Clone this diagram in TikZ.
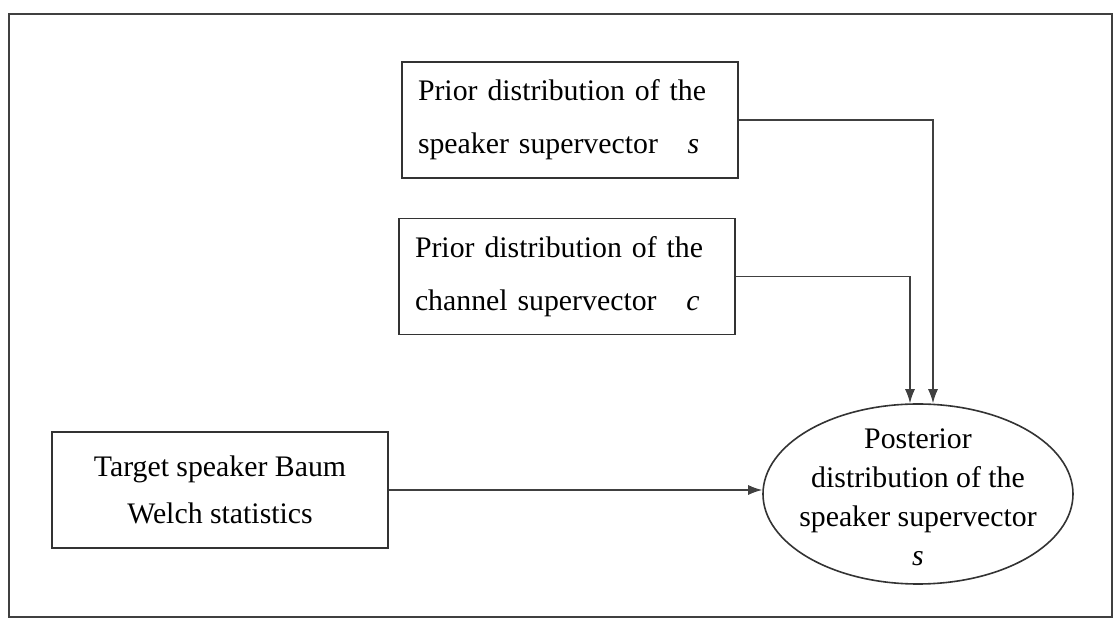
\documentclass[tikz,border=0pt]{standalone}
\usepackage{fontspec}
\setmainfont{Liberation Serif}
\usetikzlibrary{positioning,shapes.geometric,arrows.meta}

\tikzset{
	box/.style={draw=black!80, line width=0.8pt, minimum width=168pt, minimum height=58pt,
		inner sep=0pt, font=\fontsize{14.9pt}{26.5pt}\selectfont},
	prior/.style={box, text width=152pt, align=left},
	post/.style={ellipse, draw=black!80, line width=0.8pt, minimum width=155pt, minimum height=90pt, inner sep=0pt},
	posttxt/.style={align=center, inner sep=0pt, font=\fontsize{14.9pt}{19.5pt}\selectfont},
	link/.style={draw=black!75, line width=0.6pt, -{Latex[length=7pt,width=5pt]}}
}

\begin{document}
\begin{tikzpicture}[x=0.5pt, y=-0.5pt]
	\useasboundingbox (0,0) rectangle (1116,625);
	\draw[line width=1pt, black!75] (9,14) rectangle (1112,617);
	
	\node[prior] (spk) at (570,120) {Prior distribution of the\\speaker supervector\quad\textit{s}};
	\node[prior, below=19.5pt of spk, xshift=-1.5pt] (chn) {Prior distribution of the\\channel supervector\quad\textit{c}};
	\node[box, align=center, font=\fontsize{14.9pt}{23.5pt}\selectfont] (stats) at (220,490) {Target speaker Baum\\Welch statistics};
	
	\node[post] (postr) at (918,494) {};
	\node[posttxt] (posttext) at ([yshift=-1.5pt]postr.center) {Posterior\\distribution of the\\speaker supervector\\\textit{s}};
	
	\draw[link] (spk.east) -| ([xshift=7.5pt]postr.north);
	\draw[link] (chn.east) -| ([xshift=-4pt]postr.north);
	\draw[link] (stats.east) -- (stats.east -| postr.west);
\end{tikzpicture}
\end{document}
